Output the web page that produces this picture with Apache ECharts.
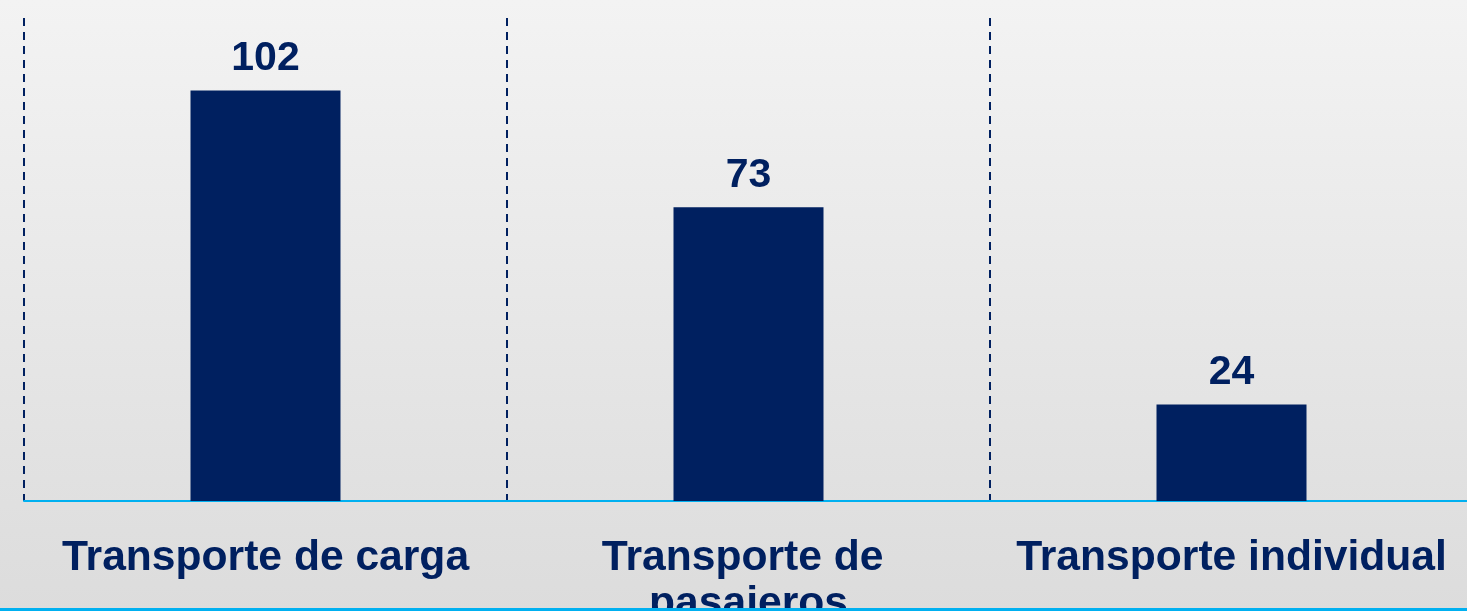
<!DOCTYPE html>
<html>
<head>
<meta charset="utf-8">
<script src="https://cdn.jsdelivr.net/npm/echarts@6/dist/echarts.min.js"></script>
<style>
  html, body { margin: 0; padding: 0; }
  #chart { width: 1467px; height: 611px; }
</style>
</head>
<body>
<div id="chart"></div>
<script>
// datos del gráfico
const categories = ['Transporte de carga', 'Transporte de pasajeros', 'Transporte individual'];
const values = [102, 73, 24];

const navy = '#002060';
const lightBlue = '#00B0F0';

const chart = echarts.init(document.getElementById('chart'));

const option = {
    backgroundColor: new echarts.graphic.LinearGradient(0, 0, 0, 1, [
        { offset: 0, color: '#f3f3f3' },
        { offset: 1, color: '#dcdcdc' }
    ]),
    textStyle: { fontFamily: 'Liberation Sans, Arial, sans-serif' },
    grid: {
        top: 18,
        bottom: 110,
        left: 24,
        right: -6,
        outerBoundsMode: 'none',
        containLabel: false
    },
    xAxis: {
        type: 'category',
        data: categories,
        boundaryGap: true,
        axisLine: { lineStyle: { color: lightBlue, width: 2 } },
        axisTick: { show: false },
        axisLabel: {
            color: navy,
            fontSize: 42.6,
            fontWeight: 'bold',
            margin: 34,
            width: 455,
            overflow: 'break',
            lineHeight: 46,
            interval: 0
        },
        splitLine: {
            show: true,
            interval: 0,
            lineStyle: { color: navy, width: 2, type: [8, 6] }
        }
    },
    yAxis: {
        type: 'value',
        min: 0,
        max: 120,
        show: false,
        splitLine: { show: false }
    },
    series: [{
        type: 'bar',
        data: values,
        barWidth: 150,
        itemStyle: { color: navy },
        label: {
            show: true,
            position: 'top',
            distance: 11,
            color: navy,
            fontSize: 41,
            fontWeight: 'bold'
        }
    }],
    graphic: [{
        type: 'rect',
        left: 0,
        bottom: 0,
        z: 100,
        shape: { width: 1467, height: 3 },
        style: { fill: lightBlue }
    }]
};

chart.setOption(option);
</script>
</body>
</html>
